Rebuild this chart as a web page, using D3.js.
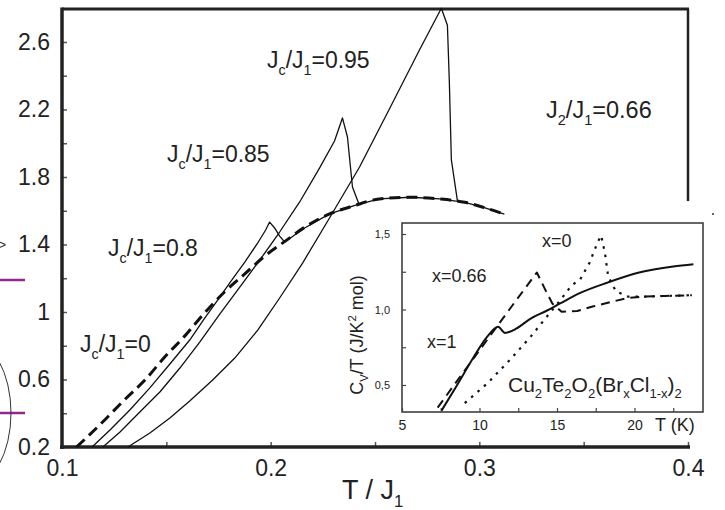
<!DOCTYPE html>
<html>
<head>
<meta charset="utf-8">
<script src="https://cdn.jsdelivr.net/npm/d3@7"></script>
<style>
  body { margin: 0; background: #fff; }
  text { font-family: "Liberation Sans", Arial, Helvetica, sans-serif; fill: #222; }
</style>
</head>
<body>
<svg id="chart" width="725" height="510"></svg>
<script>
// ---- main panel: C vs T/J1 for several Jc/J1 ----
var jc0T = [0.107,0.118,0.130,0.140,0.149,0.159,0.168,0.178,0.188,0.197,0.207,0.216,0.228,0.240,0.252,0.267,0.281,0.293,0.302,0.312];
var jc0C = [0.20,0.33,0.48,0.60,0.73,0.86,0.99,1.12,1.23,1.33,1.42,1.50,1.58,1.63,1.67,1.68,1.67,1.65,1.62,1.58];

var jc80T = [0.1144,0.123,0.1325,0.1421,0.1517,0.1612,0.1684,0.1746,0.1804,0.1876,0.1938,0.1976,0.1995,0.2019,0.2043,0.2067,0.2115,0.2163,0.228,0.240,0.252,0.267,0.281,0.293,0.302,0.312];
var jc80C = [0.20,0.301,0.419,0.550,0.692,0.834,0.964,1.071,1.172,1.296,1.409,1.486,1.533,1.498,1.450,1.415,1.456,1.498,1.58,1.63,1.67,1.68,1.67,1.65,1.62,1.58];

var jc85T = [0.1196,0.1278,0.1373,0.1469,0.1565,0.166,0.1756,0.1852,0.1962,0.2043,0.2139,0.2234,0.2306,0.2344,0.2368,0.2392,0.2421];
var jc85C = [0.20,0.289,0.407,0.526,0.668,0.822,0.988,1.148,1.332,1.474,1.652,1.853,2.013,2.150,2.037,1.741,1.646];

var jc95T = [0.1316,0.1421,0.1517,0.1612,0.1722,0.1828,0.1938,0.2043,0.2153,0.2282,0.2426,0.2569,0.2713,0.2818,0.2847,0.2856,0.2866,0.2895];
var jc95C = [0.20,0.283,0.372,0.473,0.597,0.727,0.893,1.083,1.290,1.557,1.859,2.203,2.553,2.80,2.699,2.375,1.901,1.658];

var mainXTicks = [0.1, 0.2, 0.3, 0.4];
var mainYTicks = [0.2, 0.6, 1, 1.4, 1.8, 2.2, 2.6];

// ---- inset: Cv/T vs T (K) for Cu2Te2O2(BrxCl1-x)2 ----
var x1T = [7.55,8.5,9.6,10.5,11.2,11.65,12.4,13.3,14.3,15.2,16.5,18.3,20.3,22.5,23.8];
var x1C = [0.33,0.49,0.68,0.82,0.885,0.845,0.875,0.94,0.99,1.04,1.11,1.18,1.245,1.285,1.30];

var x066T = [7.3,9,10.5,12,13.7,14.2,14.7,15.3,16.3,17.3,18.5,19.5,20.5,22,23.7];
var x066C = [0.35,0.59,0.80,1.01,1.245,1.14,1.04,0.985,0.99,1.02,1.05,1.075,1.085,1.09,1.095];

var x0T = [9.05,10.5,12,13.3,14.4,15.2,15.95,16.5,17.1,17.6,17.85,18.1,18.3,18.8,19.6,20.5,22,23.7];
var x0C = [0.38,0.51,0.67,0.82,0.96,1.06,1.16,1.20,1.31,1.44,1.49,1.37,1.22,1.12,1.085,1.085,1.09,1.095];

var insetXTicks = [5, 10, 15, 20];
var insetYTicks = [0.5, 1.0, 1.5];

var svg = d3.select("#chart");

function zip(a, b) {
  return a.map(function(v, i) { return [v, b[i]]; });
}

// text with sub/superscript parts: [[str, "sub"|"sup"|null], ...]
function richText(g, x, y, size, parts, anchor) {
  var t = g.append("text")
    .attr("x", x).attr("y", y)
    .attr("font-size", size)
    .attr("text-anchor", anchor || "start");
  var shift = 0;
  parts.forEach(function(p) {
    var target = 0;
    if (p[1] == "sub") target = size * 0.3;
    if (p[1] == "sup") target = -size * 0.38;
    t.append("tspan")
      .attr("dy", target - shift)
      .attr("font-size", p[1] ? size * 0.62 : size)
      .text(p[0]);
    shift = target;
  });
  return t;
}

// ---- bits of the neighbouring figure cut off at the left ----
svg.append("line").attr("x1", 0).attr("x2", 25).attr("y1", 280).attr("y2", 280)
  .attr("stroke", "#93278f").attr("stroke-width", 2.5);
svg.append("line").attr("x1", 0).attr("x2", 25).attr("y1", 413).attr("y2", 413)
  .attr("stroke", "#93278f").attr("stroke-width", 2.5);
svg.append("ellipse").attr("cx", -30).attr("cy", 413).attr("rx", 41).attr("ry", 73)
  .attr("fill", "none").attr("stroke", "#333").attr("stroke-width", 1);
svg.append("text").attr("x", -1).attr("y", 249).attr("font-size", 12).text(">");

// ---- main panel ----
var x = d3.scaleLinear().domain([0.1, 0.4]).range([62, 688]);
var y = d3.scaleLinear().domain([0.2, 2.8]).range([447, 8.25]);

var xAxis = d3.axisBottom(x)
  .tickValues(d3.range(0.1, 0.4001, 0.05))
  .tickSize(-5).tickPadding(13)
  .tickFormat(function(d) {
    return mainXTicks.some(function(v) { return Math.abs(v - d) < 1e-6; }) ? d3.format(".1f")(d) : "";
  });
var gx = svg.append("g").attr("transform", "translate(0,447)").call(xAxis);

var yAxis = d3.axisLeft(y)
  .tickValues(d3.range(0.2, 2.8001, 0.2))
  .tickSize(-5).tickPadding(12)
  .tickFormat(function(d) {
    return mainYTicks.some(function(v) { return Math.abs(v - d) < 1e-6; }) ? d3.format("")(+d.toFixed(1)) : "";
  });
var gy = svg.append("g").attr("transform", "translate(62,0)").call(yAxis);

[gx, gy].forEach(function(g) {
  g.attr("font-family", null).attr("font-size", 23);
  g.select(".domain").remove();
  g.selectAll(".tick line").attr("stroke", "#555").attr("stroke-width", 1.5);
  g.selectAll(".tick text").attr("fill", "#222");
});

// frame
var frame = svg.append("g").attr("stroke", "#222").attr("fill", "none");
frame.append("line").attr("x1", 62).attr("x2", 689).attr("y1", 9).attr("y2", 9).attr("stroke-width", 3);
frame.append("line").attr("x1", 688).attr("x2", 688).attr("y1", 9).attr("y2", 201).attr("stroke-width", 2.5);
frame.append("line").attr("x1", 62).attr("x2", 62).attr("y1", 7.5).attr("y2", 449).attr("stroke-width", 3.5);
frame.append("line").attr("x1", 60).attr("x2", 690).attr("y1", 447).attr("y2", 447).attr("stroke-width", 3.5);

var smooth = d3.line()
  .x(function(d) { return x(d[0]); })
  .y(function(d) { return y(d[1]); })
  .curve(d3.curveMonotoneX);
var sharp = d3.line()
  .x(function(d) { return x(d[0]); })
  .y(function(d) { return y(d[1]); });

var curves = svg.append("g").attr("fill", "none").attr("stroke", "#111").attr("stroke-linejoin", "round");
[[jc80T, jc80C], [jc85T, jc85C], [jc95T, jc95C]].forEach(function(s) {
  curves.append("path").attr("d", sharp(zip(s[0], s[1]))).attr("stroke-width", 1.3);
});
curves.append("path").attr("d", smooth(zip(jc0T, jc0C)))
  .attr("stroke-width", 3).attr("stroke-dasharray", "11,6");

var labels = svg.append("g");
richText(labels, 267, 68, 23, [["J"], ["c", "sub"], ["/J"], ["1", "sub"], ["=0.95"]]);
richText(labels, 167, 162, 23, [["J"], ["c", "sub"], ["/J"], ["1", "sub"], ["=0.85"]]);
richText(labels, 108, 256, 23, [["J"], ["c", "sub"], ["/J"], ["1", "sub"], ["=0.8"]]);
richText(labels, 80, 352, 23, [["J"], ["c", "sub"], ["/J"], ["1", "sub"], ["=0"]]);
richText(labels, 546, 118, 23.5, [["J"], ["2", "sub"], ["/J"], ["1", "sub"], ["=0.66"]]);
richText(labels, 342, 499, 27, [["T / J"], ["1", "sub"]]);

// ---- inset ----
var ix = d3.scaleLinear().domain([5, 24.42]).range([402, 703]);
var iy = d3.scaleLinear().domain([0.321, 1.573]).range([412, 223]);

var inset = svg.append("g");
inset.append("rect").attr("x", 402).attr("y", 223).attr("width", 301).attr("height", 189)
  .attr("fill", "#fff").attr("stroke", "#333").attr("stroke-width", 1.5);

var ixAxis = d3.axisBottom(ix)
  .tickValues(d3.range(5, 24, 2.5))
  .tickSize(-4).tickPadding(8)
  .tickFormat(function(d) { return insetXTicks.indexOf(d) >= 0 ? d : ""; });
var gix = inset.append("g").attr("transform", "translate(0,412)").call(ixAxis);

var iyAxis = d3.axisLeft(iy)
  .tickValues([0.5, 0.75, 1.0, 1.25, 1.5])
  .tickSize(-4).tickPadding(12)
  .tickFormat(function(d) { return insetYTicks.indexOf(d) >= 0 ? d3.format(".1f")(d).replace(".", ",") : ""; });
var giy = inset.append("g").attr("transform", "translate(402,0)").call(iyAxis);

gix.attr("font-family", null).attr("font-size", 14);
giy.attr("font-family", null).attr("font-size", 11);
[gix, giy].forEach(function(g) {
  g.select(".domain").remove();
  g.selectAll(".tick line").attr("stroke", "#444").attr("stroke-width", 1.2);
  g.selectAll(".tick text").attr("fill", "#333");
});

var iline = d3.line()
  .x(function(d) { return ix(d[0]); })
  .y(function(d) { return iy(d[1]); });

var icurves = inset.append("g").attr("fill", "none").attr("stroke", "#111").attr("stroke-linejoin", "round");
icurves.append("path").attr("d", iline(zip(x0T, x0C)))
  .attr("stroke-width", 2.2).attr("stroke-dasharray", "2.5,6");
icurves.append("path").attr("d", iline(zip(x066T, x066C)))
  .attr("stroke-width", 2).attr("stroke-dasharray", "9,6");
icurves.append("path").attr("d", iline.curve(d3.curveMonotoneX)(zip(x1T, x1C)))
  .attr("stroke-width", 2);

richText(inset, 542, 247, 18, [["x=0"]]);
richText(inset, 432, 282, 18, [["x=0.66"]]);
richText(inset, 427, 348, 18, [["x=1"]]);
richText(inset, 508, 392, 21, [["Cu"], ["2", "sub"], ["Te"], ["2", "sub"], ["O"], ["2", "sub"], ["(Br"], ["x", "sub"], ["Cl"], ["1-x", "sub"], [")"], ["2", "sub"]]);
richText(inset, 655, 431, 18, [["T (K)"]]);
var ylab = inset.append("g").attr("transform", "translate(363,335) rotate(-90)");
richText(ylab, 0, 0, 18, [["C"], ["V", "sub"], ["/T (J/K"], ["2", "sup"], [" mol)"]], "middle");

svg.append("circle").attr("cx", 713).attr("cy", 214).attr("r", 1).attr("fill", "#333");
</script>
</body>
</html>
